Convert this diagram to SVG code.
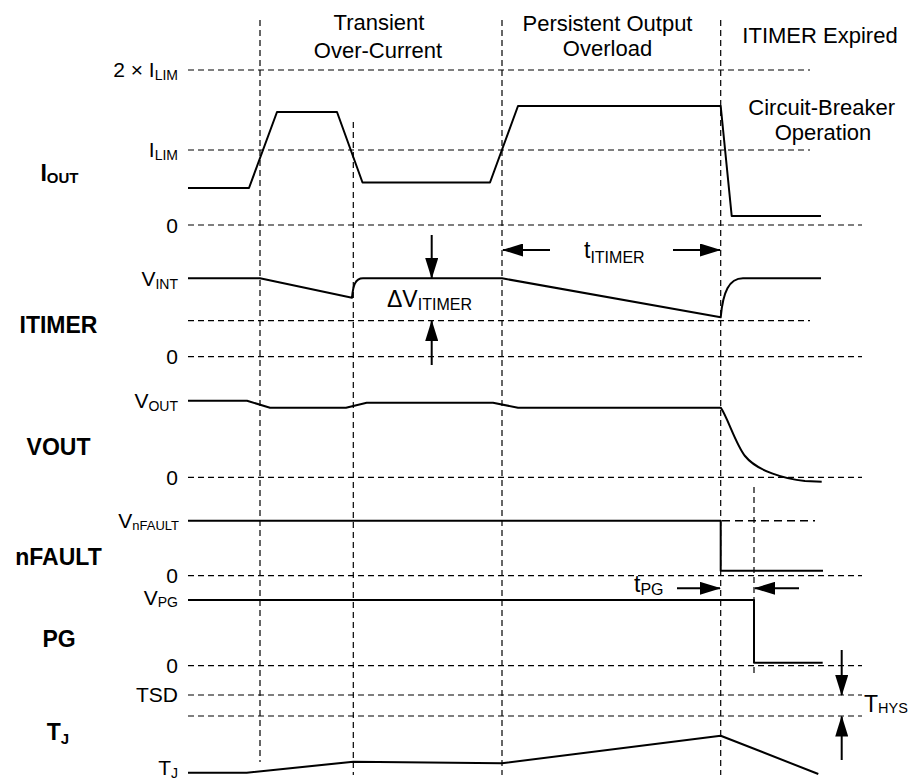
<svg xmlns="http://www.w3.org/2000/svg" width="911" height="781" viewBox="0 0 911 781">
<style>
text{font-family:"Liberation Sans",Arial,sans-serif;fill:#000}
.ax{font-size:21px;text-anchor:end}
.sub{font-size:14px}
.top{font-size:22px;text-anchor:middle}
.big{font-size:23px;font-weight:bold;text-anchor:middle}
.ann{font-size:23px}
.grid{stroke:#000;stroke-width:1.2;stroke-dasharray:6 4;fill:none}
.wave{stroke:#000;stroke-width:2;fill:none;stroke-linejoin:round}
.arr{stroke:#000;stroke-width:2;fill:none;marker-end:url(#ah)}
</style>
<defs>
<marker id="ah" viewBox="0 0 21 13" refX="20" refY="6.5" markerWidth="21" markerHeight="13" markerUnits="userSpaceOnUse" orient="auto">
<path d="M0,0 L21,6.5 L0,13 z" fill="#000"/>
</marker>
</defs>
<rect width="911" height="781" fill="#fff"/>

<g id="grid">
<line class="grid" x1="188" y1="70" x2="810" y2="70"/>
<line class="grid" x1="188" y1="150" x2="810" y2="150"/>
<line class="grid" x1="188" y1="225" x2="862" y2="225"/>
<line class="grid" x1="188" y1="320.7" x2="810" y2="320.7"/>
<line class="grid" x1="188" y1="356.7" x2="862" y2="356.7"/>
<line class="grid" x1="188" y1="477.3" x2="862" y2="477.3"/>
<line class="grid" x1="188" y1="575.7" x2="862" y2="575.7"/>
<line class="grid" x1="188" y1="665.7" x2="862" y2="665.7"/>
<line class="grid" x1="188" y1="695" x2="862" y2="695"/>
<line class="grid" x1="188" y1="716" x2="862" y2="716"/>
<line class="grid" x1="260" y1="20" x2="260" y2="762"/>
<line class="grid" x1="353.3" y1="122" x2="353.3" y2="775"/>
<line class="grid" x1="502" y1="20" x2="502" y2="775"/>
<line class="grid" x1="720.7" y1="20" x2="720.7" y2="775"/>
<line class="grid" x1="754" y1="487" x2="754" y2="677"/>
</g>

<g id="phase-labels">
<text class="top" x="379" y="30">Transient</text>
<text class="top" x="378" y="58">Over-Current</text>
<text class="top" x="607.5" y="30.7">Persistent Output</text>
<text class="top" x="607.5" y="56">Overload</text>
<text class="top" x="820" y="43">ITIMER Expired</text>
<text class="top" x="821.7" y="115">Circuit-Breaker</text>
<text class="top" x="823" y="140">Operation</text>
</g>

<g id="iout">
<text class="big" x="59.5" y="181">I<tspan font-size="15" dy="2">OUT</tspan></text>
<text class="ax" x="178" y="77">2 × I<tspan class="sub" dy="3">LIM</tspan></text>
<text class="ax" x="178" y="157">I<tspan class="sub" dy="3">LIM</tspan></text>
<text class="ax" x="178" y="232.5">0</text>
<polyline class="wave" points="188,188 249,188 277,112 337,112 362.5,182.5 490,182.5 518,106 720.7,106 731.7,216 821,216"/>
</g>

<g id="itimer">
<text class="big" x="58.5" y="333">ITIMER</text>
<text class="ax" x="178" y="286">V<tspan class="sub" dy="3">INT</tspan></text>
<text class="ax" x="178" y="364">0</text>
<path class="wave" d="M188,278.3 L260,278.3 L352,297.7 C353,286 355,278.3 363,278.3 L502,278.3 L720.7,317.3 C723,292 729,278.3 743,278.3 L821,278.3"/>
</g>

<g id="vout">
<text class="big" x="58.5" y="455">VOUT</text>
<text class="ax" x="178" y="408">V<tspan class="sub" dy="3">OUT</tspan></text>
<text class="ax" x="178" y="484.5">0</text>
<path class="wave" d="M188,400.7 L247,400.7 L270,407.7 L346,407.7 L366.7,402.8 L493,402.8 L518,407.7 L720.7,407.7 C727,416 736,445 745,456 C757,471 785,479 805,481 L821.7,481.7"/>
</g>

<g id="nfault">
<text class="big" x="58.5" y="565">nFAULT</text>
<text class="ax" x="179" y="528">V<tspan font-size="13" dy="2">nFAULT</tspan></text>
<text class="ax" x="178" y="582.5">0</text>
<polyline class="wave" points="188,520.7 720.7,520.7 720.7,570.7 823,570.7"/>
<line x1="722" y1="520.7" x2="815" y2="520.7" stroke="#000" stroke-width="1.6" stroke-dasharray="8 5"/>
</g>

<g id="pg">
<text class="big" x="59" y="646.7">PG</text>
<text class="ax" x="178" y="605">V<tspan class="sub" dy="2">PG</tspan></text>
<text class="ax" x="178" y="672.5">0</text>
<polyline class="wave" points="188,600 754,600 754,662.7 822.7,662.7"/>
</g>

<g id="tj">
<text class="big" x="58" y="740">T<tspan font-size="15" dy="4">J</tspan></text>
<text class="ax" x="178" y="702">TSD</text>
<text class="ax" x="178" y="775">T<tspan class="sub" dy="3">J</tspan></text>
<polyline class="wave" points="188,772.7 246.7,772.7 353.3,761.7 502,763.3 720.7,735.7 818.3,774"/>
</g>

<g id="connectors">
<line class="arr" x1="431.7" y1="235" x2="431.7" y2="278"/>
<line class="arr" x1="431.7" y1="365" x2="431.7" y2="321"/>
<line class="arr" x1="550" y1="250" x2="503" y2="250"/>
<line class="arr" x1="673" y1="250" x2="720" y2="250"/>
<line class="arr" x1="677" y1="588.3" x2="720" y2="588.3"/>
<line class="arr" x1="799" y1="588.3" x2="755" y2="588.3"/>
<line class="arr" x1="841.7" y1="650" x2="841.7" y2="695"/>
<line class="arr" x1="841.7" y1="760" x2="841.7" y2="716.5"/>
</g>

<g id="annotations">
<text class="ann" x="387" y="307">ΔV<tspan font-size="16" dy="3">ITIMER</tspan></text>
<text class="ann" x="584" y="258">t<tspan font-size="16" dy="5">ITIMER</tspan></text>
<text class="ann" x="634" y="592">t<tspan font-size="16" dy="3">PG</tspan></text>
<text class="ann" x="864" y="712">T<tspan font-size="14.5" dy="1">HYS</tspan></text>
</g>
</svg>
